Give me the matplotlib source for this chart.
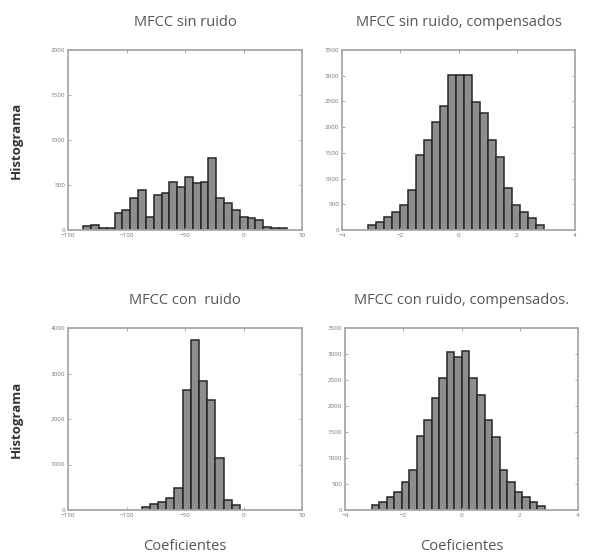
import numpy as np
import matplotlib
matplotlib.use("Agg")
import matplotlib.pyplot as plt

plt.rcParams['font.family'] = ['Open Sans', 'DejaVu Sans']

# Histogram counts and the span covered by the bins for each panel
sin_ruido_range = (-137, 37)
sin_ruido_counts = [44, 56, 19, 19, 185, 222, 352, 444, 148, 389, 415, 537, 481,
                    593, 526, 537, 796, 352, 296, 222, 148, 130, 111, 37, 19, 19]

sin_ruido_comp_range = (-3.1, 2.92)
sin_ruido_comp_counts = [97, 162, 259, 356, 486, 778, 1458, 1750, 2106, 2411,
                         3014, 3014, 3014, 2495, 2268, 1750, 1426, 810, 486,
                         356, 227, 97]

con_ruido_range = (-87, -3)
con_ruido_counts = [73, 132, 183, 257, 477, 2642, 3743, 2826, 2422, 1138, 220, 110]

con_ruido_comp_range = (-3.09, 2.86)
con_ruido_comp_counts = [96, 161, 257, 353, 546, 770, 1425, 1733, 2151, 2536,
                         3030, 2940, 3050, 2536, 2215, 1733, 1412, 770, 546,
                         353, 257, 161, 77]

titles = ["MFCC sin ruido", "MFCC sin ruido, compensados",
          "MFCC con  ruido", "MFCC con ruido, compensados."]

xticks_raw = [-150, -100, -50, 0, 50]
xticks_comp = [-4, -2, 0, 2, 4]
yticks_sin = [0, 500, 1000, 1500, 2000]
yticks_comp = [0, 500, 1000, 1500, 2000, 2500, 3000, 3500]
yticks_con = [0, 1000, 2000, 3000, 4000]

W, H = 607, 557
fig = plt.figure(figsize=(W / 100, H / 100), dpi=100)


def box(x0, y0, x1, y1):
    return [x0 / W, 1 - y1 / H, (x1 - x0) / W, (y1 - y0) / H]


panels = [
    (box(68, 50, 302, 230), sin_ruido_range, sin_ruido_counts, xticks_raw, yticks_sin),
    (box(342, 50, 575, 230), sin_ruido_comp_range, sin_ruido_comp_counts, xticks_comp, yticks_comp),
    (box(68, 328, 302, 510), con_ruido_range, con_ruido_counts, xticks_raw, yticks_con),
    (box(345, 328, 578, 510), con_ruido_comp_range, con_ruido_comp_counts, xticks_comp, yticks_comp),
]

for i, (rect, rng, counts, xt, yt) in enumerate(panels):
    ax = fig.add_axes(rect)
    edges = np.linspace(rng[0], rng[1], len(counts) + 1)
    ax.bar(edges[:-1], counts, width=np.diff(edges), align='edge',
           color='#8e8e8e', edgecolor='#262626', linewidth=1.1)
    ax.set_xlim(xt[0], xt[-1])
    ax.set_ylim(yt[0], yt[-1])
    ax.set_xticks(xt)
    ax.set_yticks(yt)
    ax.tick_params(direction='in', length=2.5, width=0.6, colors='#999999',
                   labelsize=4.5, labelcolor='#777777', top=True, right=True, pad=2)
    for s in ax.spines.values():
        s.set_color('#a8a8a8')
        s.set_linewidth(1.3)
    ax.set_title(titles[i], fontsize=10.5, color='#555555', pad=17)
    if i % 2 == 0:
        ax.set_ylabel("Histograma", fontsize=9.5, color='#333333',
                      fontweight='bold', labelpad=20)
    if i >= 2:
        ax.set_xlabel("Coeficientes", fontsize=10.5, color='#555555', labelpad=15)

fig.savefig("out.png", dpi=100)
